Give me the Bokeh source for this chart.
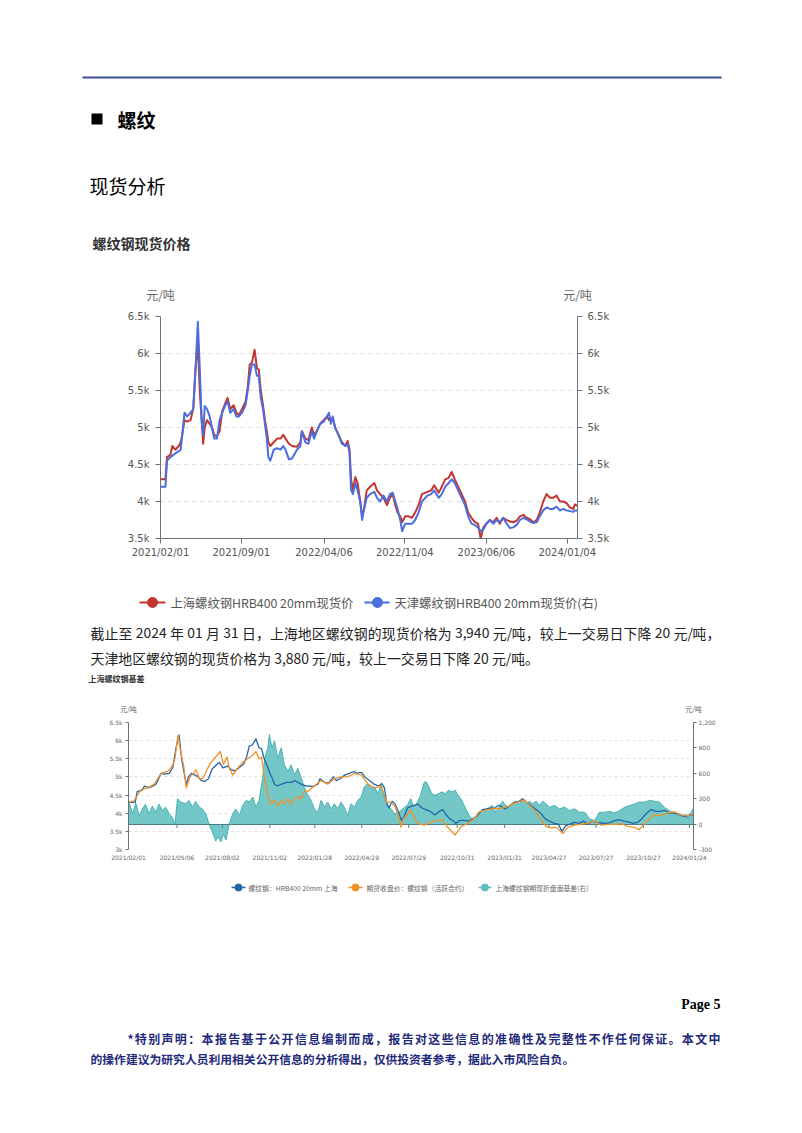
import pandas as pd
from bokeh.plotting import figure
from bokeh.models import Range1d, LinearAxis, FixedTicker, DatetimeTickFormatter
from bokeh.layouts import column
from bokeh.core.properties import value
from bokeh.embed import file_html
from bokeh.resources import INLINE

# ---------------- data: chart 1 (spot prices, yuan/ton) ----------------
DATES1 = [
    "2021-02-01", "2021-02-14", "2021-02-18", "2021-02-27", "2021-03-04", "2021-03-12", "2021-03-21", "2021-03-26", "2021-03-30", "2021-04-05",
    "2021-04-12", "2021-04-21", "2021-04-28", "2021-05-04", "2021-05-10", "2021-05-15", "2021-05-20", "2021-05-24", "2021-05-28", "2021-06-03",
    "2021-06-10", "2021-06-16", "2021-06-22", "2021-06-29", "2021-07-06", "2021-07-13", "2021-07-21", "2021-07-27", "2021-08-03", "2021-08-12",
    "2021-08-19", "2021-08-26", "2021-09-03", "2021-09-12", "2021-09-18", "2021-09-23", "2021-09-29", "2021-10-06", "2021-10-12", "2021-10-17",
    "2021-10-22", "2021-10-28", "2021-11-02", "2021-11-07", "2021-11-11", "2021-11-16", "2021-11-25", "2021-12-04", "2021-12-13", "2021-12-20",
    "2021-12-26", "2022-01-04", "2022-01-12", "2022-01-25", "2022-02-03", "2022-02-07", "2022-02-16", "2022-02-24", "2022-03-05", "2022-03-11",
    "2022-03-18", "2022-03-27", "2022-04-05", "2022-04-14", "2022-04-19", "2022-04-24", "2022-04-29", "2022-05-05", "2022-05-14", "2022-05-23",
    "2022-06-01", "2022-06-07", "2022-06-12", "2022-06-16", "2022-06-21", "2022-06-27", "2022-07-03", "2022-07-10", "2022-07-15", "2022-07-20",
    "2022-07-27", "2022-08-05", "2022-08-16", "2022-08-23", "2022-08-31", "2022-09-09", "2022-09-18", "2022-09-26", "2022-10-03", "2022-10-10",
    "2022-10-16", "2022-10-23", "2022-10-28", "2022-11-05", "2022-11-14", "2022-11-23", "2022-12-01", "2022-12-10", "2022-12-19", "2023-01-02",
    "2023-01-12", "2023-01-20", "2023-02-01", "2023-02-09", "2023-02-18", "2023-02-27", "2023-03-07", "2023-03-15", "2023-03-24", "2023-04-02",
    "2023-04-11", "2023-04-19", "2023-04-28", "2023-05-07", "2023-05-15", "2023-05-22", "2023-05-29", "2023-06-06", "2023-06-15", "2023-06-24",
    "2023-07-03", "2023-07-11", "2023-07-20", "2023-07-29", "2023-08-07", "2023-08-15", "2023-08-24", "2023-09-02", "2023-09-11", "2023-09-19",
    "2023-09-28", "2023-10-07", "2023-10-16", "2023-10-24", "2023-11-02", "2023-11-11", "2023-11-20", "2023-11-28", "2023-12-07", "2023-12-16",
    "2023-12-25", "2024-01-02", "2024-01-11", "2024-01-20", "2024-01-24", "2024-01-31",
]
SH_SPOT = [
    4300, 4300, 4600, 4630, 4750, 4700, 4750, 4800, 4900, 5100,
    5080, 5100, 5260, 5800, 6150, 5500, 5100, 4780, 5000, 5100,
    5050, 5000, 4900, 4880, 4950, 5220, 5330, 5400, 5250, 5300,
    5200, 5170, 5250, 5350, 5550, 5850, 5880, 6050, 5800, 5780,
    5500, 5300, 5100, 4950, 4800, 4750, 4800, 4850, 4850, 4900,
    4850, 4780, 4750, 4740, 4800, 4950, 4850, 4830, 5000, 4900,
    4950, 5050, 5100, 5150, 5100, 5120, 5120, 5000, 4900, 4800,
    4750, 4820, 4700, 4300, 4150, 4330, 4250, 4000, 3800, 3900,
    4150, 4200, 4250, 4150, 4100, 4050, 3950, 4050, 4100, 3950,
    3850, 3800, 3720, 3800, 3800, 3780, 3850, 3950, 4100, 4130,
    4150, 4220, 4120, 4200, 4300, 4320, 4400, 4300, 4200, 4100,
    4000, 3850, 3780, 3720, 3700, 3500, 3650, 3700, 3750, 3720,
    3780, 3700, 3780, 3750, 3730, 3720, 3740, 3800, 3820, 3780,
    3760, 3720, 3750, 3850, 4000, 4100, 4050, 4050, 4080, 4000,
    4000, 3980, 3920, 3900, 3960, 3940,
]
TJ_SPOT = [
    4200, 4200, 4550, 4600, 4620, 4650, 4680, 4700, 4900, 5200,
    5150, 5200, 5250, 5800, 6430, 5800, 5100, 4900, 5290, 5250,
    5150, 5000, 4850, 4850, 5100, 5200, 5300, 5350, 5200, 5250,
    5150, 5150, 5200, 5300, 5500, 5700, 5850, 5850, 5700, 5700,
    5400, 5250, 5050, 4850, 4600, 4550, 4700, 4720, 4700, 4750,
    4700, 4570, 4580, 4700, 4750, 4950, 4800, 4780, 4950, 4850,
    4950, 5050, 5080, 5150, 5200, 5050, 5150, 5000, 4900, 4780,
    4750, 4780, 4650, 4150, 4100, 4250, 4150, 4000, 3750, 3900,
    4050, 4100, 4130, 4050, 4000, 4080, 4000, 4100, 4120, 4000,
    3900, 3750, 3600, 3700, 3700, 3700, 3750, 3850, 4000, 4080,
    4100, 4150, 4050, 4100, 4200, 4250, 4300, 4250, 4150, 4050,
    3950, 3800, 3700, 3680, 3650, 3600, 3620, 3700, 3750, 3700,
    3750, 3720, 3780, 3700, 3640, 3650, 3680, 3750, 3780, 3760,
    3730, 3710, 3720, 3800, 3880, 3920, 3900, 3900, 3930, 3880,
    3900, 3880, 3870, 3860, 3880, 3880,
]
TICKS1 = ["2021-02-01", "2021-09-01", "2022-04-06", "2022-11-04", "2023-06-06", "2024-01-04"]
Y1_TICKS = [3500, 4000, 4500, 5000, 5500, 6000, 6500]
Y1_LABELS = ["3.5k", "4k", "4.5k", "5k", "5.5k", "6k", "6.5k"]

# ---------------- data: chart 2 (futures close and basis) ----------------
FUT_DATES = [
    "2021-02-01", "2021-02-12", "2021-02-25", "2021-03-10", "2021-03-23", "2021-04-05", "2021-04-18", "2021-04-27", "2021-05-02", "2021-05-08",
    "2021-05-13", "2021-05-19", "2021-05-24", "2021-05-31", "2021-06-07", "2021-06-12", "2021-06-18", "2021-06-25", "2021-07-03", "2021-07-11",
    "2021-07-20", "2021-07-29", "2021-08-04", "2021-08-11", "2021-08-15", "2021-08-22", "2021-09-01", "2021-09-10", "2021-09-20", "2021-09-30",
    "2021-10-06", "2021-10-12", "2021-10-17", "2021-10-22", "2021-10-29", "2021-11-03", "2021-11-11", "2021-11-17", "2021-11-24", "2021-11-30",
    "2021-12-07", "2021-12-13", "2021-12-20", "2021-12-26", "2022-01-02", "2022-01-08", "2022-01-14", "2022-01-27", "2022-02-09", "2022-02-22",
    "2022-03-07", "2022-03-20", "2022-04-02", "2022-04-15", "2022-04-28", "2022-05-11", "2022-05-24", "2022-06-06", "2022-06-16", "2022-06-23",
    "2022-07-02", "2022-07-09", "2022-07-14", "2022-07-19", "2022-08-02", "2022-08-15", "2022-08-28", "2022-09-10", "2022-09-23", "2022-10-03",
    "2022-10-12", "2022-10-27", "2022-11-07", "2022-11-20", "2022-12-03", "2022-12-13", "2022-12-29", "2023-01-11", "2023-01-24", "2023-02-06",
    "2023-02-16", "2023-02-25", "2023-03-10", "2023-03-20", "2023-03-29", "2023-04-11", "2023-04-21", "2023-05-01", "2023-05-11", "2023-05-24",
    "2023-06-02", "2023-06-15", "2023-06-28", "2023-07-11", "2023-07-24", "2023-08-06", "2023-08-19", "2023-09-01", "2023-09-14", "2023-09-27",
    "2023-10-10", "2023-10-19", "2023-10-29", "2023-11-08", "2023-11-17", "2023-11-30", "2023-12-13", "2023-12-26", "2024-01-08", "2024-01-20",
    "2024-01-31",
]
FUT_CLOSE = [
    4300, 4350, 4640, 4700, 4800, 5100, 5150, 5300, 5500, 6150,
    5700, 5300, 4700, 5000, 5100, 5200, 4950, 4950, 5200, 5400,
    5550, 5700, 5350, 5550, 5250, 5050, 5250, 5400, 5500, 5600,
    5700, 5500, 5550, 5000, 4500, 4250, 4350, 4200, 4350, 4250,
    4400, 4250, 4400, 4450, 4400, 4600, 4600, 4750, 4900, 4800,
    4950, 5000, 5000, 5100, 5050, 4800, 4700, 4750, 4300, 4300,
    4200, 3950, 3620, 3850, 4080, 3720, 3670, 3760, 3810, 3810,
    3620, 3400, 3620, 3720, 3850, 4040, 4100, 4130, 4130, 4180,
    4270, 4290, 4380, 4220, 4100, 3820, 3640, 3600, 3610, 3440,
    3610, 3670, 3700, 3720, 3790, 3670, 3690, 3690, 3710, 3640,
    3600, 3550, 3720, 3850, 3950, 3940, 4010, 4040, 3950, 3920,
    3970,
]
BASIS_DATES = [
    "2021-02-01", "2021-02-09", "2021-02-15", "2021-02-22", "2021-02-28", "2021-03-06", "2021-03-13", "2021-03-19", "2021-03-26", "2021-04-01",
    "2021-04-08", "2021-04-14", "2021-04-21", "2021-04-27", "2021-05-02", "2021-05-07", "2021-05-13", "2021-05-23", "2021-05-29", "2021-06-05",
    "2021-06-11", "2021-06-18", "2021-06-24", "2021-07-01", "2021-07-07", "2021-07-14", "2021-07-20", "2021-07-25", "2021-07-30", "2021-08-04",
    "2021-08-09", "2021-08-15", "2021-08-22", "2021-08-28", "2021-09-04", "2021-09-10", "2021-09-17", "2021-09-23", "2021-09-30", "2021-10-06",
    "2021-10-12", "2021-10-19", "2021-10-23", "2021-10-29", "2021-11-01", "2021-11-06", "2021-11-11", "2021-11-17", "2021-11-24", "2021-11-30",
    "2021-12-07", "2021-12-13", "2021-12-20", "2021-12-26", "2022-01-02", "2022-01-08", "2022-01-14", "2022-01-21", "2022-01-27", "2022-02-03",
    "2022-02-09", "2022-02-16", "2022-02-22", "2022-03-01", "2022-03-07", "2022-03-14", "2022-03-20", "2022-03-26", "2022-04-02", "2022-04-08",
    "2022-04-15", "2022-04-21", "2022-04-28", "2022-05-04", "2022-05-11", "2022-05-17", "2022-05-24", "2022-05-30", "2022-06-06", "2022-06-12",
    "2022-06-19", "2022-06-25", "2022-07-02", "2022-07-09", "2022-07-14", "2022-07-27", "2022-08-02", "2022-08-08", "2022-08-15", "2022-08-21",
    "2022-08-28", "2022-09-01", "2022-09-06", "2022-09-12", "2022-09-18", "2022-09-25", "2022-10-01", "2022-10-08", "2022-10-14", "2022-10-21",
    "2022-10-27", "2022-11-02", "2022-11-09", "2022-11-15", "2022-11-25", "2022-12-05", "2022-12-11", "2022-12-21", "2022-12-28", "2023-01-07",
    "2023-01-14", "2023-01-20", "2023-01-27", "2023-02-02", "2023-02-09", "2023-02-15", "2023-02-22", "2023-02-28", "2023-03-07", "2023-03-13",
    "2023-03-20", "2023-03-26", "2023-04-02", "2023-04-08", "2023-04-15", "2023-04-21", "2023-04-28", "2023-05-08", "2023-05-17", "2023-05-27",
    "2023-06-06", "2023-06-16", "2023-06-25", "2023-07-05", "2023-07-15", "2023-07-24", "2023-08-03", "2023-08-13", "2023-08-23", "2023-09-01",
    "2023-09-11", "2023-09-21", "2023-10-01", "2023-10-10", "2023-10-19", "2023-10-29", "2023-11-08", "2023-11-17", "2023-11-27", "2023-12-06",
    "2023-12-16", "2023-12-26", "2024-01-05", "2024-01-15", "2024-01-24", "2024-01-31",
]
BASIS = [
    280, 120, 250, 100, 180, 235, 120, 215, 140, 235,
    160, 200, 120, 80, 0, 300, 260, 240, 280, 200,
    270, 200, 180, 120, 0, -100, -200, -150, -210, -120,
    -190, 0, 120, 180, 100, 215, 280, 260, 320, 200,
    280, 545, 780, 900, 1060, 900, 980, 780, 900, 700,
    620, 700, 580, 660, 545, 430, 350, 280, 180, 140,
    280, 200, 260, 180, 240, 180, 260, 200, 100, 240,
    200, 280, 320, 440, 480, 420, 440, 360, 460, 320,
    200, 180, 120, 140, 160, 230, 300, 200, 260, 340,
    495, 500, 440, 360, 340, 360, 380, 360, 400, 380,
    400, 340, 280, 200, 80, 40, 140, 160, 180, 220,
    140, 200, 270, 220, 200, 240, 270, 240, 280, 240,
    270, 240, 270, 220, 270, 240, 200, 220, 180, 200,
    160, 180, 140, 140, 60, 40, 140, 140, 150, 130,
    160, 200, 220, 240, 260, 260, 280, 270, 260, 200,
    160, 120, 100, 110, 100, 180,
]
TICKS2 = ["2021-02-01", "2021-05-06", "2021-08-02", "2021-11-02", "2022-01-28", "2022-04-29", "2022-07-29",
          "2022-10-31", "2023-01-31", "2023-04-27", "2023-07-27", "2023-10-27", "2024-01-24"]
Y2L_TICKS = [3000, 3500, 4000, 4500, 5000, 5500, 6000, 6500]
Y2L_LABELS = ["3k", "3.5k", "4k", "4.5k", "5k", "5.5k", "6k", "6.5k"]
Y2R_TICKS = [-300, 0, 300, 600, 900, 1200]
Y2R_LABELS = ["-300", "0", "300", "600", "900", "1,200"]

# ---------------- style ----------------
RED = "#c23531"
BLUE1 = "#4a6ee0"
BLUE2 = "#2266a8"
ORANGE = "#f0922b"
TEAL = "#5cbdbd"
TEAL_LINE = "#48b1b2"
AXIS = "#6e7079"
CJK = "Noto Sans CJK SC"
NAVY = "#1f2a7a"
W = 800


def ms(s):
    return pd.Timestamp(s).timestamp() * 1000.0


def n(a, b):
    k = min(len(a), len(b))
    return a[:k], b[:k]


def page_fig(top, h):
    p = figure(width=W, height=h, x_range=Range1d(0, W), y_range=Range1d(top + h, top),
               output_backend="svg", toolbar_location=None, x_axis_location=None,
               y_axis_location=None, min_border=0, outline_line_color=None)
    p.grid.visible = False
    p.frame_align = False
    return p


def T(p, x, y, s, size, color="#000", bold=False, align="left", font=CJK):
    p.text(x=[x], y=[y], text=[s], text_font=value(font), text_font_size=size,
           text_font_style="bold" if bold else "normal", text_color=color,
           text_align=align, text_baseline="middle")


def justified(p, x0, x1, y, s, fsize, color="#000", bold=False):
    def adv(ch):
        if ch.isdigit():
            return 0.554 * fsize
        if ch == " ":
            return 0.224 * fsize
        if ch == ",":
            return 0.24 * fsize
        if ch == "/":
            return 0.36 * fsize
        if ch == "*":
            return 0.5 * fsize
        return fsize
    widths = [adv(c) for c in s]
    extra = ((x1 - x0) - sum(widths)) / (len(s) - 1)
    xs, cur = [], x0
    for w_ in widths:
        xs.append(cur)
        cur += w_ + extra
    keep = [i for i, c in enumerate(s) if c != " "]
    p.text(x=[xs[i] for i in keep], y=[y] * len(keep), text=[s[i] for i in keep],
           text_font=value(CJK), text_font_size=f"{fsize}px",
           text_font_style="bold" if bold else "normal", text_color=color,
           text_align="left", text_baseline="middle")


def style_axis(ax, size, tick_out, standoff, color="#555"):
    ax.axis_line_color = AXIS
    ax.major_tick_line_color = AXIS
    ax.major_tick_out = tick_out
    ax.major_tick_in = 0
    ax.minor_tick_line_color = None
    ax.major_label_text_font = "DejaVu Sans"
    ax.major_label_text_font_size = size
    ax.major_label_text_color = color
    ax.major_label_standoff = standoff


def date_fmt():
    f = "%Y/%m/%d"
    return DatetimeTickFormatter(days=f, months=f, years=f, hours=f, hourmin=f,
                                 minutes=f, minsec=f, seconds=f, milliseconds=f, microseconds=f)


# ---------------- F1: header (page y 0-305) ----------------
f1 = page_fig(0, 305)
f1.segment(x0=[82], y0=[77], x1=[721], y1=[77], line_color="#3d4f9f", line_width=2)
f1.quad(left=[91], right=[102], top=[113], bottom=[124], fill_color="#000", line_color=None)
T(f1, 117, 119, "螺纹", "19px", bold=True)
T(f1, 89, 185, "现货分析", "19px")
T(f1, 92, 242, "螺纹钢现货价格", "14px", color="#333", bold=True)
T(f1, 160, 294, "元/吨", "12px", color="#666", align="center")
T(f1, 577, 294, "元/吨", "12px", color="#666", align="center")

# ---------------- C1: spot price chart (page y 305-570) ----------------
d1, sh = n(pd.to_datetime(DATES1), SH_SPOT)
d1b, tj = n(pd.to_datetime(DATES1), TJ_SPOT)
c1 = figure(width=W, height=265, x_axis_type="datetime",
            x_range=Range1d(pd.Timestamp("2021-02-01"), pd.Timestamp("2024-01-31")),
            y_range=Range1d(3500, 6500), min_border_left=160, min_border_right=W - 160 - 417,
            min_border_top=11, min_border_bottom=32, output_backend="svg",
            toolbar_location=None, outline_line_color=None)
c1.frame_align = False
c1.extra_y_ranges = {"r": Range1d(3500, 6500)}
c1.xgrid.visible = False
c1.ygrid.ticker = FixedTicker(ticks=Y1_TICKS)
c1.ygrid.grid_line_dash = "4 4"
c1.ygrid.grid_line_color = "#dcdcdc"
c1.xaxis.ticker = FixedTicker(ticks=[ms(t) for t in TICKS1])
c1.xaxis.formatter = date_fmt()
style_axis(c1.xaxis[0], "10px", 5, 3)
c1.yaxis.ticker = FixedTicker(ticks=Y1_TICKS)
c1.yaxis.major_label_overrides = dict(zip(Y1_TICKS, Y1_LABELS))
style_axis(c1.yaxis[0], "10px", 5, 6)
ry1 = LinearAxis(y_range_name="r", ticker=FixedTicker(ticks=Y1_TICKS),
                 major_label_overrides=dict(zip(Y1_TICKS, Y1_LABELS)))
style_axis(ry1, "10px", 5, 5)
c1.add_layout(ry1, "right")
c1.line(d1, sh, color=RED, line_width=2, line_join="round")
c1.line(d1b, tj, color=BLUE1, line_width=2, line_join="round", y_range_name="r")

# ---------------- F2: legend 1, paragraph, chart 2 title (page y 570-716) ----------------
f2 = page_fig(570, 146)
f2.segment(x0=[139, 364], y0=[602, 602], x1=[165, 389], y1=[602, 602],
           line_color=[RED, BLUE1], line_width=2)
f2.scatter(x=[152, 377], y=[602, 602], size=10, fill_color=[RED, BLUE1], line_color=[RED, BLUE1])
T(f2, 170, 602, "上海螺纹钢HRB400 20mm现货价", "12.3px", color="#555")
T(f2, 394, 602, "天津螺纹钢HRB400 20mm现货价(右)", "12.3px", color="#555")
justified(f2, 90, 720, 632, "截止至 2024 年 01 月 31 日，上海地区螺纹钢的现货价格为 3,940 元/吨，较上一交易日下降 20 元/吨，",
          13.9, color="#222")
T(f2, 90, 657, "天津地区螺纹钢的现货价格为 3,880 元/吨，较上一交易日下降 20 元/吨。", "13.9px", color="#222")
T(f2, 88, 678, "上海螺纹钢基差", "8px", color="#333", bold=True)
T(f2, 128, 708.5, "元/吨", "7px", color="#666", align="center")
T(f2, 693, 708.5, "元/吨", "7px", color="#666", align="center")

# ---------------- C2: basis chart (page y 716-870) ----------------
db, basis = n(pd.to_datetime(BASIS_DATES), BASIS)
dfu, fut = n(pd.to_datetime(FUT_DATES), FUT_CLOSE)
c2 = figure(width=W, height=154, x_axis_type="datetime",
            x_range=Range1d(pd.Timestamp("2021-02-01"), pd.Timestamp("2024-02-01")),
            y_range=Range1d(3000, 6500), min_border_left=128, min_border_right=W - 128 - 565,
            min_border_top=6, min_border_bottom=21, output_backend="svg",
            toolbar_location=None, outline_line_color=None)
c2.frame_align = False
c2.extra_y_ranges = {"r": Range1d(-300, 1200)}
c2.xgrid.visible = False
c2.ygrid.ticker = FixedTicker(ticks=Y2L_TICKS)
c2.ygrid.grid_line_dash = "3 3"
c2.ygrid.grid_line_color = "#e0e0e0"
c2.xaxis.ticker = FixedTicker(ticks=[ms(t) for t in TICKS2])
c2.xaxis.formatter = date_fmt()
style_axis(c2.xaxis[0], "6px", 0, 4, color="#666")
c2.xaxis.axis_line_color = None
c2.xaxis.major_tick_line_color = None
c2.yaxis.ticker = FixedTicker(ticks=Y2L_TICKS)
c2.yaxis.major_label_overrides = dict(zip(Y2L_TICKS, Y2L_LABELS))
style_axis(c2.yaxis[0], "6px", 3, 3, color="#666")
ry2 = LinearAxis(y_range_name="r", ticker=FixedTicker(ticks=Y2R_TICKS),
                 major_label_overrides=dict(zip(Y2R_TICKS, Y2R_LABELS)))
style_axis(ry2, "6px", 3, 2, color="#666")
c2.add_layout(ry2, "right")

c2.varea(x=db, y1=0, y2=basis, fill_color=TEAL, fill_alpha=0.85, y_range_name="r")
c2.line(db, basis, color=TEAL_LINE, line_width=1, y_range_name="r")
c2.hspan(y=[0], line_color="#4d7c80", line_width=1.2, y_range_name="r")
tk2 = pd.to_datetime(TICKS2)
c2.segment(x0=tk2, y0=0, x1=tk2, y1=-45, line_color="#4d7c80", line_width=1, y_range_name="r")
c2.line(d1, sh, color=BLUE2, line_width=1.3, line_join="round")
c2.line(dfu, fut, color=ORANGE, line_width=1.3, line_join="round")

# ---------------- F3: legend 2 and footer (page y 870-1125) ----------------
f3 = page_fig(870, 255)
f3.segment(x0=[231, 348, 478], y0=[887] * 3, x1=[245, 362, 491], y1=[887] * 3,
           line_color=[BLUE2, ORANGE, TEAL], line_width=1.3)
f3.scatter(x=[238, 355, 484.5], y=[887] * 3, size=7, fill_color=[BLUE2, ORANGE, TEAL],
           line_color=[BLUE2, ORANGE, TEAL])
T(f3, 248, 887, "螺纹钢：HRB400 20mm 上海", "6.8px", color="#666")
T(f3, 366, 887, "期货收盘价：螺纹钢（活跃合约）", "6.8px", color="#666")
T(f3, 495, 887, "上海螺纹钢期现折盘面基差(右)", "6.8px", color="#666")

T(f3, 720, 1004, "Page 5", "14px", bold=True, align="right", font="Liberation Serif")
justified(f3, 127, 720, 1038,
          "*特别声明：本报告基于公开信息编制而成，报告对这些信息的准确性及完整性不作任何保证。本文中",
          12, color=NAVY, bold=True)
T(f3, 90, 1058, "的操作建议为研究人员利用相关公开信息的分析得出，仅供投资者参考，据此入市风险自负。",
  "11.8px", color=NAVY, bold=True)

page = column(f1, c1, f2, c2, f3, spacing=0)
open("out.html", "w").write(file_html(page, INLINE))
